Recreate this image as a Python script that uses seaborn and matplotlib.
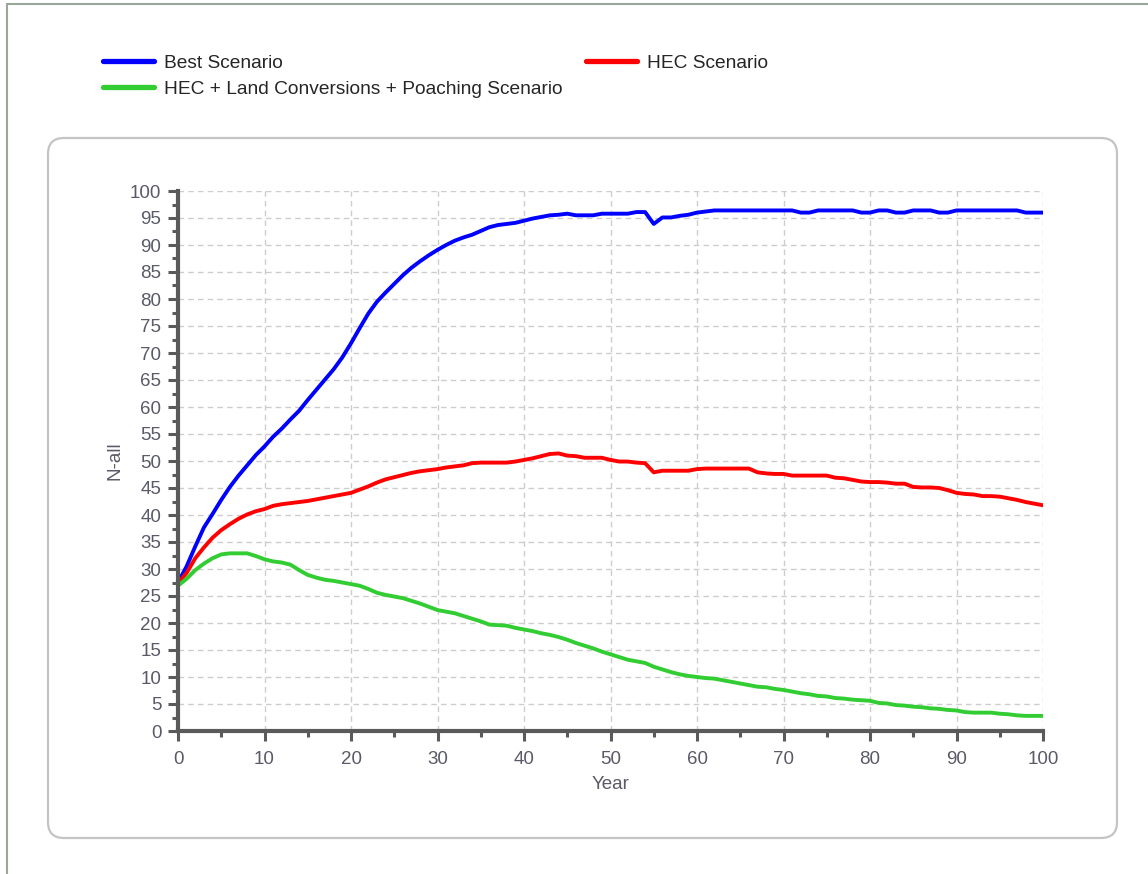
import numpy as np
import pandas as pd
import matplotlib
matplotlib.use('Agg')
import matplotlib.pyplot as plt
from matplotlib.patches import FancyBboxPatch
from matplotlib.ticker import MultipleLocator
import seaborn as sns

# values, one per year (0..100)
years = list(range(0, 101))

best = [27.5, 30.5, 34.2, 37.7, 40.2, 42.8, 45.2, 47.3, 49.2, 51.1,
        52.7, 54.5, 56.0, 57.7, 59.3, 61.3, 63.2, 65.1, 67.0, 69.2,
        71.8, 74.6, 77.3, 79.5, 81.2, 82.8, 84.4, 85.8, 87.0, 88.1,
        89.1, 90.0, 90.8, 91.4, 91.9, 92.6, 93.3, 93.7, 93.9, 94.1,
        94.5, 94.9, 95.2, 95.5, 95.6, 95.8, 95.5, 95.5, 95.5, 95.8,
        95.8, 95.8, 95.8, 96.1, 96.1, 93.9, 95.1, 95.1, 95.4, 95.6,
        96.0, 96.2, 96.4, 96.4, 96.4, 96.4, 96.4, 96.4, 96.4, 96.4,
        96.4, 96.4, 96.0, 96.0, 96.4, 96.4, 96.4, 96.4, 96.4, 96.0,
        96.0, 96.4, 96.4, 96.0, 96.0, 96.4, 96.4, 96.4, 96.0, 96.0,
        96.4, 96.4, 96.4, 96.4, 96.4, 96.4, 96.4, 96.4, 96.0, 96.0,
        96.0]

hec = [27.3, 29.3, 32.0, 34.0, 35.8, 37.2, 38.3, 39.3, 40.1, 40.7,
       41.1, 41.7, 42.0, 42.2, 42.4, 42.6, 42.9, 43.2, 43.5, 43.8,
       44.1, 44.7, 45.3, 46.0, 46.6, 47.0, 47.4, 47.8, 48.1, 48.3,
       48.5, 48.8, 49.0, 49.2, 49.6, 49.7, 49.7, 49.7, 49.7, 49.9,
       50.2, 50.5, 50.9, 51.3, 51.4, 51.0, 50.9, 50.6, 50.6, 50.6,
       50.2, 49.9, 49.9, 49.7, 49.6, 47.9, 48.2, 48.2, 48.2, 48.2,
       48.5, 48.6, 48.6, 48.6, 48.6, 48.6, 48.6, 47.9, 47.7, 47.6,
       47.6, 47.3, 47.3, 47.3, 47.3, 47.3, 46.9, 46.8, 46.5, 46.2,
       46.1, 46.1, 46.0, 45.8, 45.8, 45.2, 45.1, 45.1, 45.0, 44.6,
       44.1, 43.9, 43.8, 43.5, 43.5, 43.4, 43.1, 42.8, 42.4, 42.1,
       41.8]

hec_land_poach = [26.9, 28.2, 29.8, 31.0, 32.0, 32.7, 32.9, 32.9, 32.9, 32.4,
                  31.8, 31.4, 31.2, 30.8, 29.8, 28.9, 28.4, 28.0, 27.8, 27.5,
                  27.2, 26.9, 26.3, 25.6, 25.2, 24.9, 24.6, 24.1, 23.6, 23.0,
                  22.4, 22.1, 21.8, 21.3, 20.8, 20.3, 19.7, 19.6, 19.5, 19.1,
                  18.8, 18.5, 18.1, 17.8, 17.4, 16.9, 16.3, 15.8, 15.3, 14.7,
                  14.2, 13.7, 13.2, 12.9, 12.6, 11.9, 11.4, 10.9, 10.5, 10.2,
                  10.0, 9.8, 9.7, 9.4, 9.1, 8.8, 8.5, 8.2, 8.1, 7.8,
                  7.6, 7.3, 7.0, 6.8, 6.5, 6.4, 6.1, 6.0, 5.8, 5.7,
                  5.6, 5.2, 5.1, 4.8, 4.7, 4.5, 4.4, 4.2, 4.1, 3.9,
                  3.8, 3.5, 3.4, 3.4, 3.4, 3.2, 3.1, 2.9, 2.8, 2.8,
                  2.8]

scenarios = ['Best Scenario', 'HEC Scenario', 'HEC + Land Conversions + Poaching Scenario']
colors = ['#0000ff', '#ff0000', '#32cd32']

df = pd.concat([
    pd.DataFrame({'Year': years, 'N-all': best, 'Scenario': scenarios[0]}),
    pd.DataFrame({'Year': years, 'N-all': hec, 'Scenario': scenarios[1]}),
    pd.DataFrame({'Year': years, 'N-all': hec_land_poach, 'Scenario': scenarios[2]}),
])

sns.set_theme(style='white')
plt.rcParams['font.family'] = ['Liberation Sans', 'DejaVu Sans']

txt = '#5a5a68'
axc = '#5a5a5a'
fs = 13.5

fig = plt.figure(figsize=(11.48, 8.74), dpi=100)

# background: window border + rounded panel
bg = fig.add_axes([0, 0, 1, 1])
bg.set_xlim(0, 1148)
bg.set_ylim(874, 0)
bg.axis('off')
bg.add_patch(FancyBboxPatch((48, 138), 1069, 700, boxstyle='round,pad=0,rounding_size=16',
                            fc='white', ec='#c4c4c4', lw=1.6))
bg.plot([7, 1148], [4, 4], color='#9aa69a', lw=1.5)
bg.plot([7, 7], [4, 874], color='#9aa69a', lw=1.5)

ax = fig.add_axes([178 / 1148, 1 - 731 / 874, 865 / 1148, 540 / 874])
ax.patch.set_alpha(0)

sns.lineplot(data=df, x='Year', y='N-all', hue='Scenario', hue_order=scenarios,
             palette=colors, linewidth=2.8, ax=ax, legend=False)

ax.set_xlim(0, 100)
ax.set_ylim(0, 100)
ax.xaxis.set_major_locator(MultipleLocator(10))
ax.xaxis.set_minor_locator(MultipleLocator(5))
ax.yaxis.set_major_locator(MultipleLocator(5))
ax.yaxis.set_minor_locator(MultipleLocator(2.5))

ax.grid(True, which='major', color='#cdcdcd', linestyle=(0, (4, 3)), linewidth=1)
ax.set_axisbelow(True)

for s in ['top', 'right']:
    ax.spines[s].set_visible(False)
for s in ['left', 'bottom']:
    ax.spines[s].set_color(axc)
    ax.spines[s].set_linewidth(3)

ax.tick_params(which='major', direction='out', length=7, width=2.2, color=axc,
               labelsize=fs, labelcolor=txt, pad=5, left=True, bottom=True)
ax.tick_params(axis='x', which='major', pad=7.5)
ax.tick_params(which='minor', direction='out', length=4.5, width=2.2, color=axc,
               left=True, bottom=True)

ax.set_xlabel('Year', fontsize=fs, color=txt, labelpad=6)
ax.set_ylabel('N-all', fontsize=fs, color=txt, labelpad=5)

lfs = 13.8
lines = ax.get_lines()
fig.legend([lines[0], lines[2]], [scenarios[0], scenarios[2]], loc='upper left',
           bbox_to_anchor=(95 / 1148, 1 - 47 / 874), frameon=False, fontsize=lfs,
           handlelength=2.7, handletextpad=0.52, labelspacing=0.44, borderaxespad=0)
fig.legend([lines[1]], [scenarios[1]], loc='upper left',
           bbox_to_anchor=(578 / 1148, 1 - 47 / 874), frameon=False, fontsize=lfs,
           handlelength=2.7, handletextpad=0.52, borderaxespad=0)

for leg in fig.legends:
    for h in leg.legend_handles:
        h.set_linewidth(3.8)

fig.savefig('out.png', dpi=100)
